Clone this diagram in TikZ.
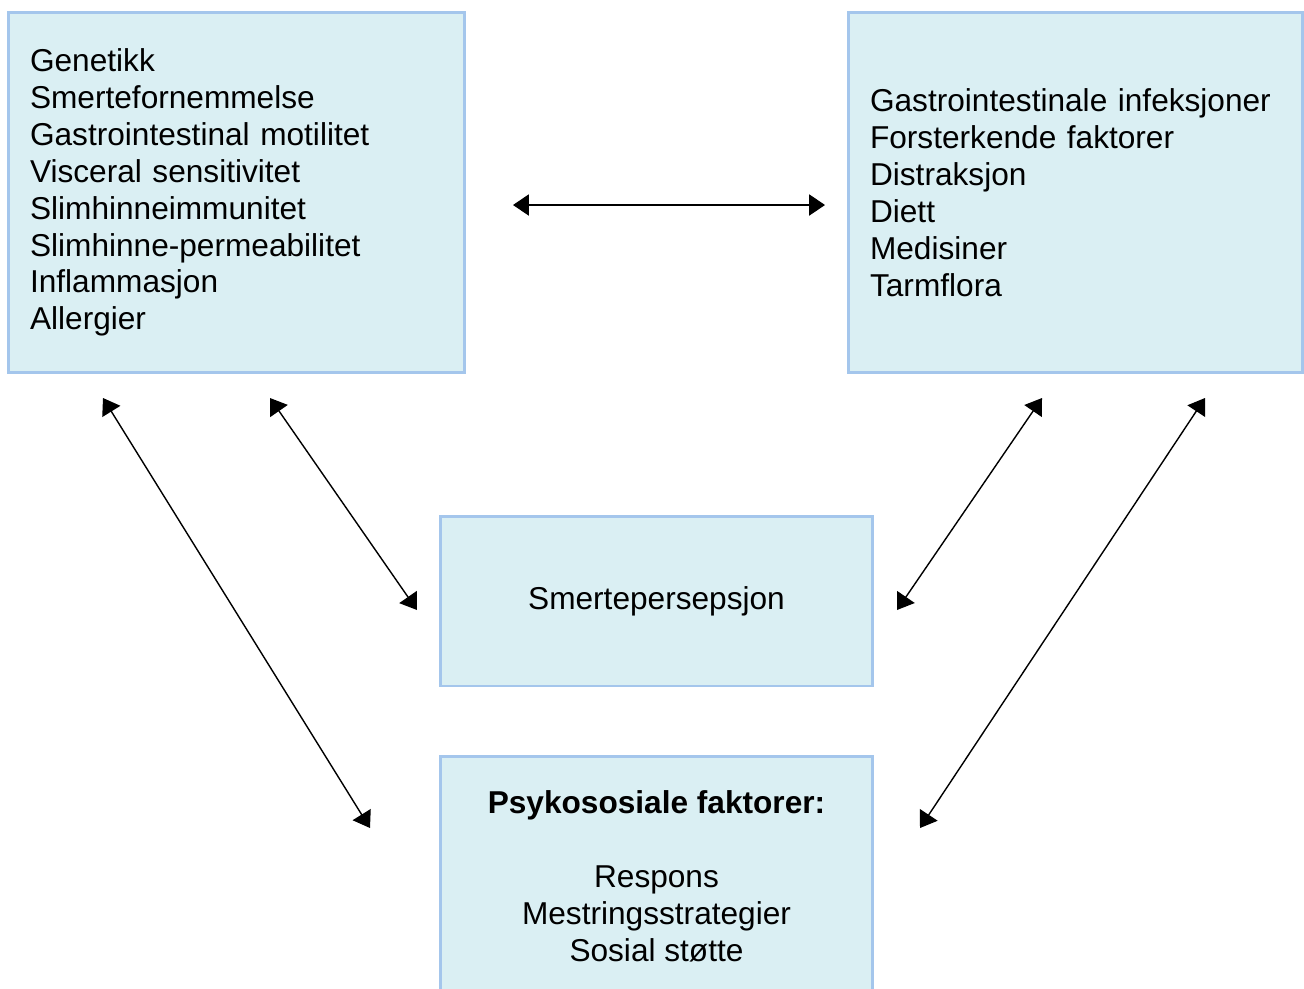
\documentclass[tikz,border=0pt]{standalone}
\usepackage{fontspec}
\setmainfont{Liberation Sans}
\usetikzlibrary{arrows.meta}

\definecolor{boksfyll}{RGB}{218,239,243}
\definecolor{bokskant}{RGB}{164,198,236}

\begin{document}
\begin{tikzpicture}[x=0.02cm,y=-0.02cm,
                    <->,>={Triangle[length=9pt,width=12pt]},line width=0.8pt,
                    boks/.style={rectangle,draw=bokskant,fill=boksfyll,line width=1.7pt,
                                 font=\fontsize{18}{21}\selectfont,inner ysep=0pt}]

  \clip (0,0) rectangle (1304,988);

  \node[boks,minimum width=9.14cm,minimum height=7.22cm,text width=8.26cm,
        inner xsep=0.44cm,align=left] (gen)   at (236.5,192.5)
        {Genetikk\\Smertefornemmelse\\Gastrointestinal motilitet\\Visceral sensitivitet\\
         Slimhinneimmunitet\\Slimhinne-permeabilitet\\Inflammasjon\\Allergier};
  \node[boks,minimum width=9.1cm,minimum height=7.22cm,text width=8.22cm,
        inner xsep=0.44cm,align=left] (miljo) at (1075.5,192.5)
        {Gastrointestinale infeksjoner\\Forsterkende faktorer\\Distraksjon\\Diett\\
         Medisiner\\Tarmflora};
  \node[boks,minimum width=8.66cm,minimum height=3.4cm] (pers) at (656.5,601)
        {Smertepersepsjon};
  \node[boks,minimum width=8.66cm,minimum height=4.82cm,align=center] (psyk) at (656.5,876.5)
        {\textbf{Psykososiale faktorer:}\\[21pt]Respons\\Mestringsstrategier\\Sosial støtte};

  \coordinate (h1) at (513,205);
  \coordinate (h2) at (825,205);
  \coordinate (v1) at (103,398);
  \coordinate (v2) at (370,828);
  \coordinate (v3) at (270,398);
  \coordinate (v4) at (417,610);
  \coordinate (o1) at (1042,398);
  \coordinate (o2) at (897,610);
  \coordinate (o3) at (1205,398);
  \coordinate (o4) at (920,828);

  \path (h1) edge (h2)
        (v1) edge (v2)
        (v3) edge (v4)
        (o1) edge (o2)
        (o3) edge (o4);
\end{tikzpicture}
\end{document}
